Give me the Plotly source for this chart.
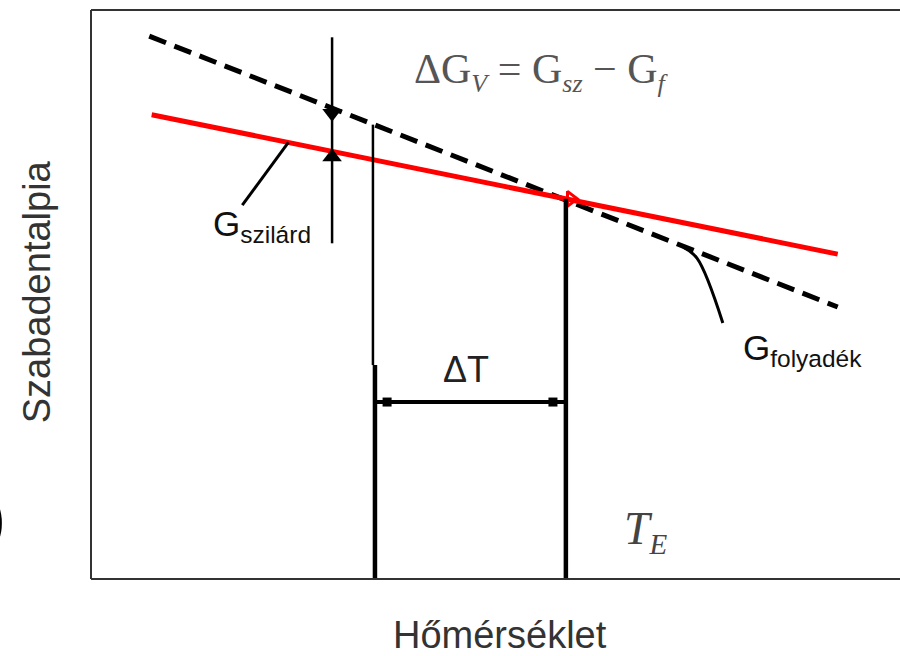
import numpy as np
import plotly.graph_objects as go

# Free-enthalpy curves (temperature and G in arbitrary units)
T_folyadek = [7.2, 92.3]
G_folyadek = [95.4, 47.8]
T_szilard = [7.5, 92.3]
G_szilard = [81.6, 57.1]

# Characteristic temperatures
T_E = 58.7          # equilibrium temperature (curves cross)
T_under = 35.0      # undercooled temperature
T_dG = 29.8         # where the ΔG_V bracket is drawn
dT_level = 31.1     # height of the ΔT dimension line
T_leader_sz = [18.7, 24.4]
T_leader_f = [73.2, 74.9, 78.1]
G_leader_f = [58.3, 56.4, 45.0]


def g_liq(t):
    return float(np.interp(t, T_folyadek, G_folyadek))


def g_sol(t):
    return float(np.interp(t, T_szilard, G_szilard))


G_E = g_sol(T_E)

fig = go.Figure()

# liquid (dashed black) and solid (red) curves
fig.add_trace(go.Scatter(x=T_folyadek, y=G_folyadek, mode="lines",
                         line=dict(color="black", width=5, dash="18px,9px")))
fig.add_trace(go.Scatter(x=T_szilard, y=G_szilard, mode="lines",
                         line=dict(color="#ff0000", width=5)))

# marker at the crossing point
fig.add_trace(go.Scatter(x=[T_E + 0.6], y=[G_E], mode="markers",
                         marker=dict(symbol="triangle-right-open", size=13,
                                     color="#ff0000", line=dict(width=3))))

# ΔG_V bracket
fig.add_trace(go.Scatter(x=[T_dG, T_dG], y=[95.2, 59.0], mode="lines",
                         line=dict(color="black", width=2.5)))
fig.add_trace(go.Scatter(x=[T_dG, T_dG], y=[g_liq(T_dG) - 0.9, g_sol(T_dG) - 1.0],
                         mode="markers",
                         marker=dict(symbol=["triangle-down", "triangle-up"], size=17,
                                     color="black")))

# vertical at the undercooled temperature
fig.add_trace(go.Scatter(x=[T_under - 0.15, T_under - 0.15], y=[g_liq(T_under), 37.6],
                         mode="lines", line=dict(color="black", width=2.5)))
fig.add_trace(go.Scatter(x=[T_under + 0.1, T_under + 0.1], y=[37.6, 0],
                         mode="lines", line=dict(color="black", width=4.5)))

# vertical at T_E
fig.add_trace(go.Scatter(x=[T_E, T_E], y=[G_E, 0], mode="lines",
                         line=dict(color="black", width=4.5)))

# ΔT dimension line
fig.add_trace(go.Scatter(x=[T_under + 0.1, T_E], y=[dT_level, dT_level], mode="lines",
                         line=dict(color="black", width=4)))
fig.add_trace(go.Scatter(x=[T_under + 1.6, T_E - 1.6], y=[dT_level, dT_level],
                         mode="markers",
                         marker=dict(symbol="square", size=9, color="black")))

# leader lines to the labels
fig.add_trace(go.Scatter(x=T_leader_sz, y=[65.7, g_sol(T_leader_sz[1])], mode="lines",
                         line=dict(color="black", width=3)))
fig.add_trace(go.Scatter(x=T_leader_f, y=G_leader_f, mode="lines",
                         line=dict(color="black", width=3, shape="spline")))

sans = "Liberation Sans, Arial, sans-serif"
serif = "Liberation Serif, Times New Roman, serif"


def sub(s, size):
    return f"<sub><span style='font-size:{size}px'><i>{s}</i></span></sub>"


annotations = [
    dict(x=39.7, y=89.1, xref="x", yref="y", xanchor="left", yanchor="middle",
         text="ΔG" + sub("V", 26) + " = G" + sub("sz", 26) + " − G" + sub("f", 26),
         font=dict(family=serif, size=42, color="#555555"), showarrow=False),
    dict(x=65.6, y=8.4, xref="x", yref="y", xanchor="left", yanchor="middle",
         text="<i>T</i>" + sub("E", 29),
         font=dict(family=serif, size=46, color="#444444"), showarrow=False),
    dict(x=46.35, y=36.9, xref="x", yref="y", xanchor="center", yanchor="middle",
         text="ΔT", font=dict(family=sans, size=36, color="#222222"), showarrow=False),
    dict(x=14.8, y=62.0, xref="x", yref="y", xanchor="left", yanchor="middle",
         text="G<sub>szilárd</sub>", font=dict(family=sans, size=35, color="#111111"),
         showarrow=False),
    dict(x=80.35, y=40.25, xref="x", yref="y", xanchor="left", yanchor="middle",
         text="G<sub>folyadék</sub>", font=dict(family=sans, size=35, color="#111111"),
         showarrow=False),
    dict(x=0.5056, y=-0.098, xref="paper", yref="paper", xanchor="center", yanchor="middle",
         text="Hőmérséklet", font=dict(family=sans, size=38, color="#333333"),
         showarrow=False),
    dict(x=-0.0667, y=0.504, xref="paper", yref="paper", xanchor="center", yanchor="middle",
         text="Szabadentalpia", textangle=-90,
         font=dict(family=sans, size=38, color="#333333"), showarrow=False),
    dict(x=-0.1026, y=0.109, xref="paper", yref="paper", xanchor="right", yanchor="middle",
         text=")", font=dict(family=sans, size=66, color="#000000"), showarrow=False),
]

# frame: left, bottom and top edges; open on the right
frame = dict(color="#333333", width=2)
shapes = [
    dict(type="line", xref="paper", yref="paper", x0=0, x1=0, y0=0, y1=1, line=frame),
    dict(type="line", xref="paper", yref="paper", x0=0, x1=1, y0=0, y1=0, line=frame),
    dict(type="line", xref="paper", yref="paper", x0=0, x1=1, y0=1, y1=1, line=frame),
]

fig.update_layout(
    width=900, height=656,
    margin=dict(l=91, r=0, t=10, b=77),
    paper_bgcolor="white", plot_bgcolor="white",
    showlegend=False,
    annotations=annotations,
    shapes=shapes,
    xaxis=dict(range=[0, 100], showgrid=False, zeroline=False, showticklabels=False,
               ticks="", showline=False),
    yaxis=dict(range=[0, 100], showgrid=False, zeroline=False, showticklabels=False,
               ticks="", showline=False),
)

# keep the page from scrolling so the figure fills the window exactly
fig.write_html(
    "out.html",
    post_script="document.documentElement.style.overflow='hidden';"
                "document.body.style.overflow='hidden';"
                "document.body.style.margin='0';",
)
